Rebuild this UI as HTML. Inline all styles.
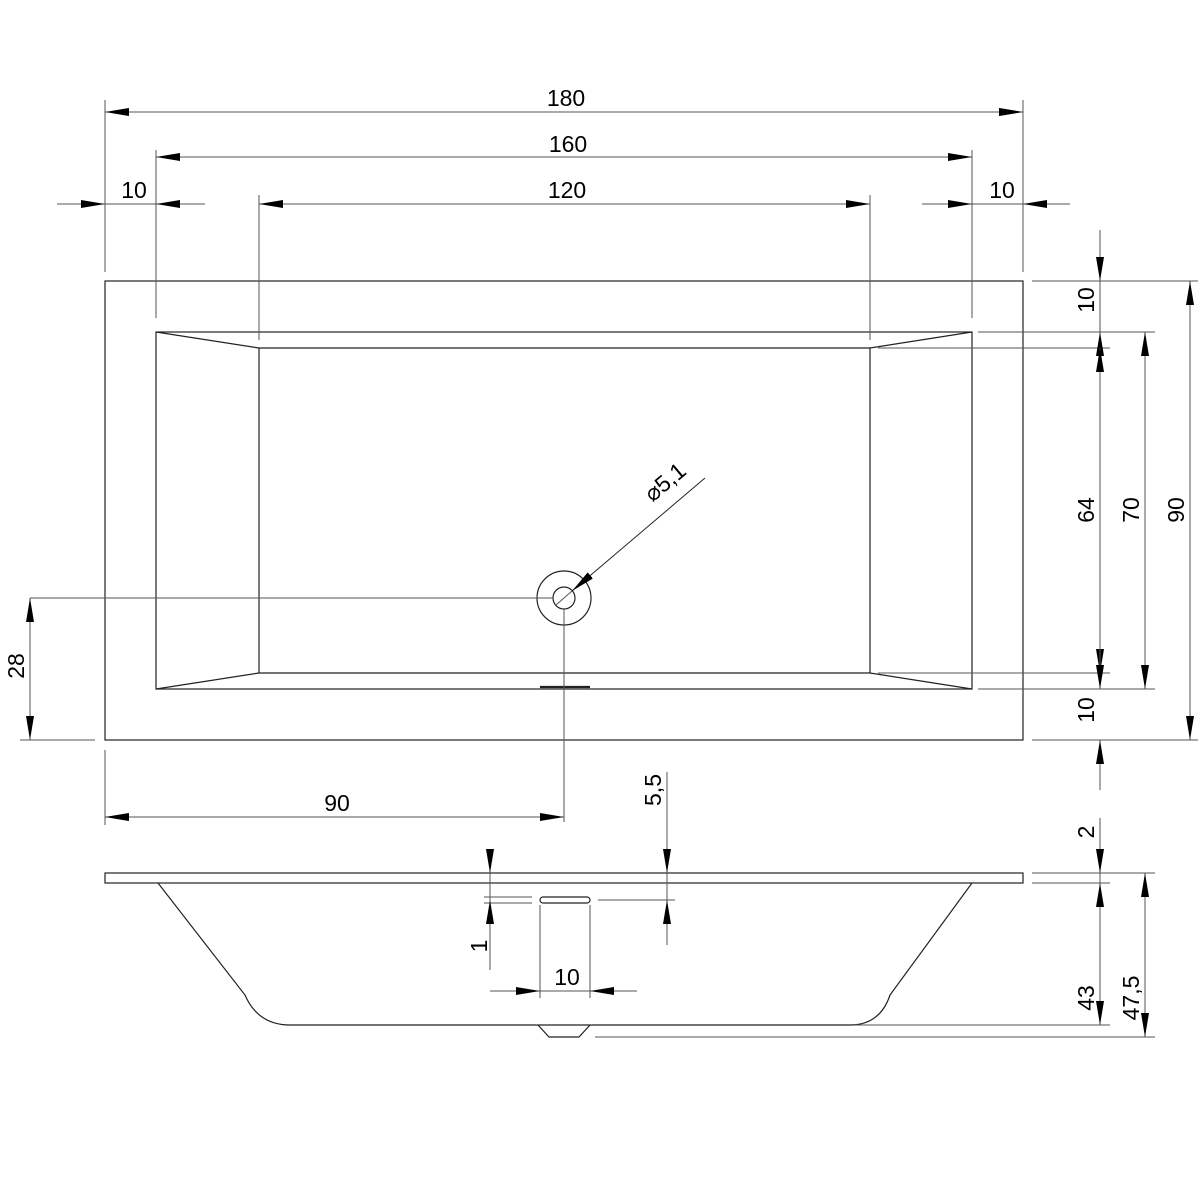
<!DOCTYPE html>
<html><head><meta charset="utf-8"><style>html,body{margin:0;padding:0;background:#fff}svg{display:block}text{font-family:"Liberation Sans",Arial,sans-serif;font-size:23px;fill:#000}</style></head><body>
<svg width="1200" height="1200" viewBox="0 0 1200 1200" xmlns="http://www.w3.org/2000/svg">
<defs>
<marker id="a" viewBox="0 0 24 8" refX="24" refY="4" markerWidth="24" markerHeight="8" markerUnits="userSpaceOnUse" orient="auto"><path d="M0,0 L24,4 L0,8 Z" fill="#000"/></marker>
</defs>
<g fill="none" stroke="#222" stroke-width="1.2">
<!-- top view -->
<rect x="105" y="281" width="918" height="459"/>
<rect x="156" y="332" width="816" height="357"/>
<line x1="259" y1="348" x2="870" y2="348"/>
<line x1="259" y1="673" x2="870" y2="673"/>
<line x1="259" y1="348" x2="259" y2="673"/>
<line x1="870" y1="348" x2="870" y2="673"/>
<line x1="156" y1="332" x2="259" y2="348"/>
<line x1="972" y1="332" x2="870" y2="348"/>
<line x1="156" y1="689" x2="259" y2="673"/>
<line x1="972" y1="689" x2="870" y2="673"/>
<circle cx="564" cy="598" r="27"/>
<circle cx="564" cy="598" r="11"/>
<line x1="540" y1="687" x2="590" y2="687" stroke-width="2.2"/>
</g>
<g fill="none" stroke="#555" stroke-width="1">
<line x1="30" y1="598" x2="553" y2="598"/>
<line x1="564" y1="609" x2="564" y2="822"/>
<line x1="105" y1="100" x2="105" y2="272"/>
<line x1="1023" y1="100" x2="1023" y2="272"/>
<line x1="156" y1="150" x2="156" y2="318"/>
<line x1="972" y1="150" x2="972" y2="318"/>
<line x1="259" y1="195" x2="259" y2="340"/>
<line x1="870" y1="195" x2="870" y2="340"/>
<line x1="1032" y1="281" x2="1198" y2="281"/>
<line x1="978" y1="332" x2="1155" y2="332"/>
<line x1="878" y1="348" x2="1110" y2="348"/>
<line x1="878" y1="673" x2="1110" y2="673"/>
<line x1="978" y1="689" x2="1155" y2="689"/>
<line x1="1032" y1="740" x2="1198" y2="740"/>
<line x1="20" y1="740" x2="95" y2="740"/>
<line x1="105" y1="750" x2="105" y2="825"/>
<!-- dims -->
<line x1="105" y1="112" x2="1023" y2="112" marker-start="url(#a)" marker-end="url(#a)" style="marker-start:none"/>
<line x1="564" y1="112" x2="105" y2="112" marker-end="url(#a)"/>
<line x1="564" y1="112" x2="1023" y2="112" marker-end="url(#a)"/>
<line x1="564" y1="157" x2="156" y2="157" marker-end="url(#a)"/>
<line x1="564" y1="157" x2="972" y2="157" marker-end="url(#a)"/>
<line x1="564" y1="204" x2="259" y2="204" marker-end="url(#a)"/>
<line x1="564" y1="204" x2="870" y2="204" marker-end="url(#a)"/>
<line x1="57" y1="204" x2="105" y2="204" marker-end="url(#a)"/>
<line x1="205" y1="204" x2="156" y2="204" marker-end="url(#a)"/>
<line x1="105" y1="204" x2="156" y2="204"/>
<line x1="922" y1="204" x2="972" y2="204" marker-end="url(#a)"/>
<line x1="1070" y1="204" x2="1023" y2="204" marker-end="url(#a)"/>
<line x1="972" y1="204" x2="1023" y2="204"/>
<line x1="1100" y1="230" x2="1100" y2="281" marker-end="url(#a)"/>
<line x1="1100" y1="281" x2="1100" y2="332"/>
<line x1="1100" y1="510" x2="1100" y2="332" marker-end="url(#a)"/>
<line x1="1100" y1="510" x2="1100" y2="348" marker-end="url(#a)"/>
<line x1="1100" y1="510" x2="1100" y2="673" marker-end="url(#a)"/>
<line x1="1100" y1="510" x2="1100" y2="689" marker-end="url(#a)"/>
<line x1="1100" y1="790" x2="1100" y2="740" marker-end="url(#a)"/>
<line x1="1145" y1="510" x2="1145" y2="332" marker-end="url(#a)"/>
<line x1="1145" y1="510" x2="1145" y2="689" marker-end="url(#a)"/>
<line x1="1190" y1="510" x2="1190" y2="281" marker-end="url(#a)"/>
<line x1="1190" y1="510" x2="1190" y2="740" marker-end="url(#a)"/>
<line x1="30" y1="670" x2="30" y2="598" marker-end="url(#a)"/>
<line x1="30" y1="670" x2="30" y2="740" marker-end="url(#a)"/>
<line x1="330" y1="817" x2="105" y2="817" marker-end="url(#a)"/>
<line x1="330" y1="817" x2="564" y2="817" marker-end="url(#a)"/>
<line x1="705" y1="478" x2="572" y2="591" marker-end="url(#a)" stroke="#222"/>
<line x1="556" y1="605" x2="572" y2="591"/>
</g>
<!-- side view -->
<g fill="none" stroke="#222" stroke-width="1.2">
<rect x="105" y="873" width="918" height="10"/>
<path d="M158,883 L245,995 Q258,1025 290,1025 L850,1025 Q880,1025 890,995 L972,883"/>
<path d="M538,1025 L549,1037 L579,1037 L590,1025"/>
<rect x="540" y="897" width="50" height="6" rx="3"/>
</g>
<g fill="none" stroke="#555" stroke-width="1">
<line x1="484" y1="897" x2="532" y2="897"/>
<line x1="484" y1="903" x2="532" y2="903"/>
<line x1="598" y1="900" x2="675" y2="900"/>
<line x1="490" y1="850" x2="490" y2="873" marker-end="url(#a)"/>
<line x1="490" y1="873" x2="490" y2="900"/>
<line x1="490" y1="970" x2="490" y2="900" marker-end="url(#a)"/>
<line x1="540" y1="905" x2="540" y2="998"/>
<line x1="590" y1="905" x2="590" y2="998"/>
<line x1="490" y1="991" x2="540" y2="991" marker-end="url(#a)"/>
<line x1="637" y1="991" x2="590" y2="991" marker-end="url(#a)"/>
<line x1="540" y1="991" x2="590" y2="991"/>
<line x1="667" y1="772" x2="667" y2="873" marker-end="url(#a)"/>
<line x1="667" y1="873" x2="667" y2="900"/>
<line x1="667" y1="945" x2="667" y2="900" marker-end="url(#a)"/>
<line x1="1100" y1="818" x2="1100" y2="873" marker-end="url(#a)"/>
<line x1="1100" y1="873" x2="1100" y2="883"/>
<line x1="1100" y1="960" x2="1100" y2="883" marker-end="url(#a)"/>
<line x1="1100" y1="960" x2="1100" y2="1025" marker-end="url(#a)"/>
<line x1="1145" y1="960" x2="1145" y2="873" marker-end="url(#a)"/>
<line x1="1145" y1="960" x2="1145" y2="1037" marker-end="url(#a)"/>
<line x1="1032" y1="873" x2="1155" y2="873"/>
<line x1="1032" y1="883" x2="1110" y2="883"/>
<line x1="855" y1="1025" x2="1110" y2="1025"/>
<line x1="595" y1="1037" x2="1155" y2="1037"/>
</g>
<g text-anchor="middle">
<text x="566" y="106">180</text>
<text x="568" y="152">160</text>
<text x="567" y="198">120</text>
<text x="134" y="198">10</text>
<text x="1002" y="198">10</text>
<text x="337" y="811">90</text>
<text x="567" y="985">10</text>
<text transform="translate(1094,300) rotate(-90)">10</text>
<text transform="translate(1094,510) rotate(-90)">64</text>
<text transform="translate(1139,510) rotate(-90)">70</text>
<text transform="translate(1184,510) rotate(-90)">90</text>
<text transform="translate(1094,710) rotate(-90)">10</text>
<text transform="translate(24,666) rotate(-90)">28</text>
<text transform="translate(487,946) rotate(-90)">1</text>
<text transform="translate(661,790) rotate(-90)">5,5</text>
<text transform="translate(1094,832) rotate(-90)">2</text>
<text transform="translate(1094,998) rotate(-90)">43</text>
<text transform="translate(1139,998) rotate(-90)">47,5</text>
<text transform="translate(670,488) rotate(-40)">⌀5,1</text>
</g>
</svg>
</body></html>
